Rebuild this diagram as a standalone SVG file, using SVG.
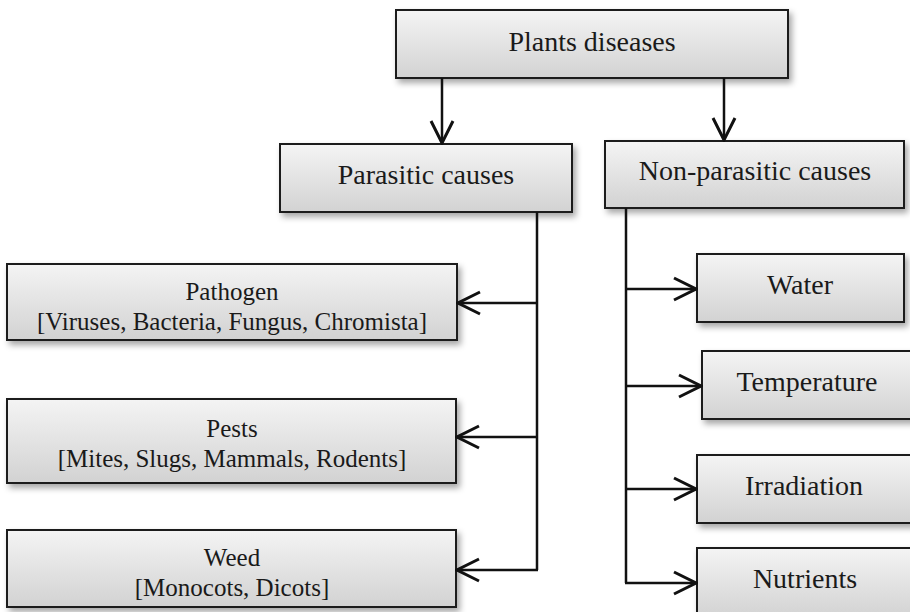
<svg xmlns="http://www.w3.org/2000/svg" width="910" height="612" viewBox="0 0 910 612">
<defs>
<linearGradient id="g" x1="0" y1="0" x2="0" y2="1">
<stop offset="0" stop-color="#f4f4f4"/>
<stop offset="1" stop-color="#d2d2d2"/>
</linearGradient>
<filter id="sh" x="-10%" y="-10%" width="125%" height="140%">
<feDropShadow dx="3" dy="4" stdDeviation="3" flood-color="#000" flood-opacity="0.35"/>
</filter>
<marker id="ah" viewBox="0 0 26 26" refX="24" refY="13" markerWidth="26" markerHeight="26" markerUnits="userSpaceOnUse" orient="auto">
<path d="M2,2 L24,13 L2,24" fill="none" stroke="#111" stroke-width="3"/>
</marker>
</defs>
<style>
.box{fill:url(#g);stroke:#1a1a1a;stroke-width:2;filter:url(#sh)}
.t{fill:#1a1a1a;text-anchor:middle}
.big{font-size:28px}
.sm{font-size:25px}
.c{fill:none;stroke:#111;stroke-width:2.5}
</style>
<rect width="910" height="612" fill="#fff"/>
<g font-family="'Liberation Serif', 'DejaVu Serif', serif">
<g id="plants">
<rect class="box" x="396" y="10" width="392" height="68"/>
<text class="t big" x="592" y="51">Plants diseases</text>
</g>
<g id="parasitic">
<rect class="box" x="280" y="144" width="292" height="68"/>
<text class="t big" x="426" y="184">Parasitic causes</text>
</g>
<g id="nonparasitic">
<rect class="box" x="605" y="141" width="299" height="67"/>
<text class="t big" x="755" y="180">Non-parasitic causes</text>
</g>
<g id="pathogen">
<rect class="box" x="7" y="264" width="450" height="76"/>
<text class="t sm" x="232" y="300">Pathogen</text>
<text class="t sm" x="232" y="330">[Viruses, Bacteria, Fungus, Chromista]</text>
</g>
<g id="pests">
<rect class="box" x="7" y="399" width="449" height="84"/>
<text class="t sm" x="232" y="437">Pests</text>
<text class="t sm" x="232" y="467">[Mites, Slugs, Mammals, Rodents]</text>
</g>
<g id="weed">
<rect class="box" x="7" y="530" width="449" height="77"/>
<text class="t sm" x="232" y="566">Weed</text>
<text class="t sm" x="232" y="596">[Monocots, Dicots]</text>
</g>
<g id="water">
<rect class="box" x="697" y="254" width="207" height="68"/>
<text class="t big" x="800" y="294">Water</text>
</g>
<g id="temperature">
<rect class="box" x="702" y="351" width="212" height="68"/>
<text class="t big" x="807" y="391">Temperature</text>
</g>
<g id="irradiation">
<rect class="box" x="697" y="455" width="216" height="68"/>
<text class="t big" x="804" y="495">Irradiation</text>
</g>
<g id="nutrients">
<rect class="box" x="697" y="548" width="216" height="70"/>
<text class="t big" x="805" y="588">Nutrients</text>
</g>
</g>
<g id="connectors">
<line class="c" x1="442" y1="78" x2="442" y2="143" marker-end="url(#ah)"/>
<line class="c" x1="724" y1="78" x2="724" y2="140" marker-end="url(#ah)"/>
<polyline class="c" points="537,212 537,570"/>
<line class="c" x1="537" y1="303" x2="458" y2="303" marker-end="url(#ah)"/>
<line class="c" x1="537" y1="437" x2="457" y2="437" marker-end="url(#ah)"/>
<line class="c" x1="538" y1="570" x2="457" y2="570" marker-end="url(#ah)"/>
<polyline class="c" points="626,208 626,583"/>
<line class="c" x1="625" y1="289" x2="696" y2="289" marker-end="url(#ah)"/>
<line class="c" x1="625" y1="386" x2="701" y2="386" marker-end="url(#ah)"/>
<line class="c" x1="625" y1="489" x2="696" y2="489" marker-end="url(#ah)"/>
<line class="c" x1="625" y1="583" x2="696" y2="583" marker-end="url(#ah)"/>
</g>
</svg>
